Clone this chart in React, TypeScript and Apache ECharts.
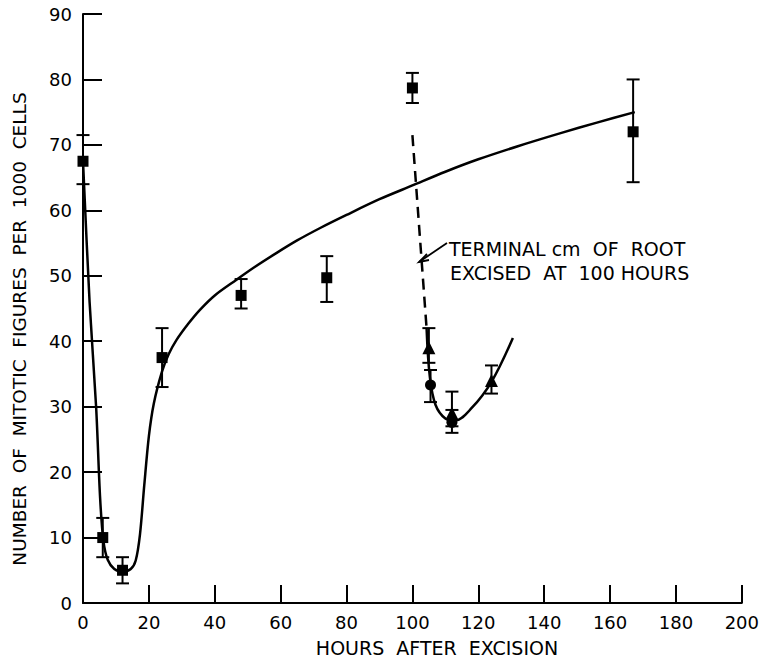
import React, { useEffect, useRef } from "react";
import * as echarts from "echarts";

// Tick labels
const xTicks = [0, 20, 40, 60, 80, 100, 120, 140, 160, 180, 200];
const yTicks = [0, 10, 20, 30, 40, 50, 60, 70, 80, 90];

// Squares: intact roots
const squareHours = [0, 6, 12, 24, 48, 74, 100, 167];
const squareMean = [67.5, 10, 5, 37.5, 47, 49.7, 78.7, 72];
const squareLow = [64, 7, 3, 33, 45, 46, 76.4, 64.3];
const squareHigh = [71.5, 13, 7, 42, 49.5, 53, 81, 80];

// Triangles: terminal cm excised at 100 h
const triHours = [105, 112, 124];
const triMean = [39, 29, 34];
const triLow = [36.7, 27, 32];
const triHigh = [42, 32.3, 36.3];

// Circles
const circHours = [105.5, 112];
const circMean = [33.3, 27.6];
const circLow = [30.7, 26];
const circHigh = [35.6, 29.5];

// Main fitted curve
const curveHours = [0, 2, 4, 5.2, 6.2, 7.5, 9.5, 12, 14.5, 16, 17.3, 18.6, 20, 21.5, 24, 26, 28.4, 32, 35.5, 40, 46.6, 52, 58.8, 65, 72, 80, 90, 100, 110, 120, 132, 145, 156, 167.5];
const curveValues = [67.5, 46, 29.8, 16, 9.5, 6.6, 5.2, 4.8, 5.2, 6.5, 10.5, 18, 25.5, 30.5, 35.4, 38, 40.2, 42.7, 44.8, 47.0, 49.4, 51.3, 53.5, 55.4, 57.3, 59.3, 61.7, 63.8, 65.9, 67.8, 69.8, 71.8, 73.4, 75];

// Recovery curve after excision at 100 h
const dashedHours = [100, 104.3];
const dashedValues = [71.5, 42];
const recoveryHours = [104.3, 105.3, 107, 110, 113, 118, 124, 130.5];
const recoveryValues = [42, 34.5, 30.3, 28.2, 27.9, 29.8, 33.8, 40.5];

const FONT = "DejaVu Sans";

function errorSeries(hours: number[], low: number[], high: number[]) {
  const data = hours.map((h, i) => [h, low[i], high[i]]);
  return {
    type: "custom",
    data,
    z: 3,
    silent: true,
    renderItem: (params: any, api: any) => {
      const x = api.value(0);
      const lo = api.coord([x, api.value(1)]);
      const hi = api.coord([x, api.value(2)]);
      const w = 6.5;
      const style = { stroke: "#000", lineWidth: 2 };
      return {
        type: "group",
        children: [
          { type: "line", shape: { x1: lo[0], y1: lo[1], x2: hi[0], y2: hi[1] }, style },
          { type: "line", shape: { x1: lo[0] - w, y1: lo[1], x2: lo[0] + w, y2: lo[1] }, style },
          { type: "line", shape: { x1: hi[0] - w, y1: hi[1], x2: hi[0] + w, y2: hi[1] }, style },
        ],
      };
    },
  };
}

export default function App() {
  const ref = useRef<HTMLDivElement>(null);
  useEffect(() => {
    if (!ref.current) return;
    const chart = echarts.init(ref.current, null, { renderer: "svg" });
    const zip = (a: number[], b: number[]) => a.map((v, i) => [v, b[i]]);
    const marker = { color: "#000", opacity: 1 };
    chart.setOption({
      animation: false,
      backgroundColor: "#fff",
      grid: { left: 83, top: 14, right: 20, bottom: 62 },
      xAxis: {
        type: "value",
        min: 0,
        max: 200,
        interval: 20,
        splitLine: { show: false },
        axisLine: { lineStyle: { color: "#000", width: 2 } },
        axisTick: { inside: true, length: 18, lineStyle: { color: "#000", width: 2 } },
        axisLabel: {
          color: "#000",
          fontFamily: FONT,
          fontSize: 18,
          margin: 10,
          formatter: (v: number) => (xTicks.includes(v) ? String(v) : ""),
        },
      },
      yAxis: {
        type: "value",
        min: 0,
        max: 90,
        interval: 10,
        splitLine: { show: false },
        axisLine: { show: true, lineStyle: { color: "#000", width: 2 } },
        axisTick: { show: true, inside: true, length: 19, lineStyle: { color: "#000", width: 2 } },
        axisLabel: {
          color: "#000",
          fontFamily: FONT,
          fontSize: 18,
          margin: 11,
          formatter: (v: number) => (yTicks.includes(v) ? String(v) : ""),
        },
      },
      series: [
        {
          type: "line",
          data: zip(curveHours, curveValues),
          smooth: 0.3,
          showSymbol: false,
          lineStyle: { color: "#000", width: 2.5 },
          silent: true,
          z: 2,
        },
        {
          type: "line",
          data: zip(dashedHours, dashedValues),
          showSymbol: false,
          lineStyle: { color: "#000", width: 2.5, type: [11, 7] },
          silent: true,
          z: 2,
        },
        {
          type: "line",
          data: zip(recoveryHours, recoveryValues),
          smooth: 0.35,
          showSymbol: false,
          lineStyle: { color: "#000", width: 2.5 },
          silent: true,
          z: 2,
        },
        errorSeries(squareHours, squareLow, squareHigh),
        errorSeries(triHours, triLow, triHigh),
        errorSeries(circHours, circLow, circHigh),
        {
          type: "scatter",
          data: zip(squareHours, squareMean),
          symbol: "rect",
          symbolSize: 11,
          itemStyle: marker,
          z: 4,
        },
        {
          type: "scatter",
          data: zip(triHours, triMean),
          symbol: "triangle",
          symbolSize: 13,
          itemStyle: marker,
          z: 4,
        },
        {
          type: "scatter",
          data: zip(circHours, circMean),
          symbol: "circle",
          symbolSize: 11,
          itemStyle: marker,
          z: 4,
        },
      ],
      graphic: [
        {
          type: "text",
          x: 437,
          y: 648,
          style: {
            text: "HOURS  AFTER  EXCISION",
            font: `19px "${FONT}"`,
            fill: "#000",
            align: "center",
            verticalAlign: "middle",
          },
        },
        {
          type: "text",
          x: 19,
          y: 329,
          rotation: Math.PI / 2,
          style: {
            text: "NUMBER  OF  MITOTIC  FIGURES  PER  1000  CELLS",
            font: `18.5px "${FONT}"`,
            fill: "#000",
            align: "center",
            verticalAlign: "middle",
          },
        },
        {
          type: "text",
          x: 449,
          y: 249,
          style: {
            text: "TERMINAL cm  OF  ROOT",
            font: `19px "${FONT}"`,
            fill: "#000",
            align: "left",
            verticalAlign: "middle",
          },
        },
        {
          type: "text",
          x: 450,
          y: 273,
          style: {
            text: "EXCISED  AT  100 HOURS",
            font: `19px "${FONT}"`,
            fill: "#000",
            align: "left",
            verticalAlign: "middle",
          },
        },
        {
          type: "line",
          shape: { x1: 447, y1: 243, x2: 419, y2: 262 },
          style: { stroke: "#000", lineWidth: 1.8 },
        },
        {
          type: "polyline",
          shape: { points: [[427, 254], [419, 262], [429, 260]] },
          style: { stroke: "#000", lineWidth: 1.8, fill: null },
        },
      ],
    });
    return () => chart.dispose();
  }, []);
  return (
    <div
      ref={ref}
      style={{ position: "fixed", left: 0, top: 0, width: 762, height: 665, background: "#fff" }}
    />
  );
}
